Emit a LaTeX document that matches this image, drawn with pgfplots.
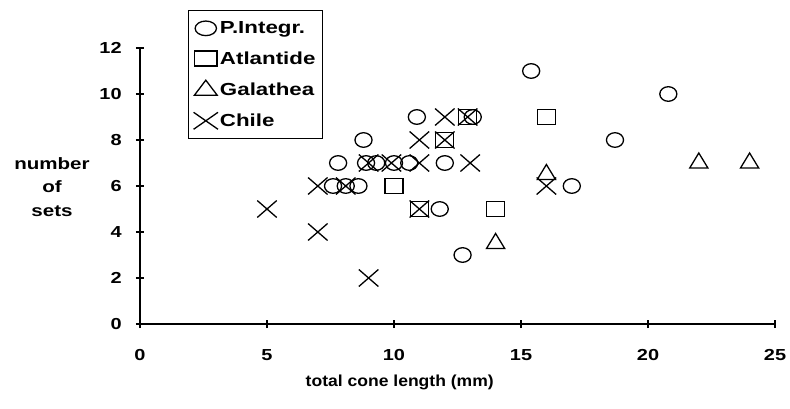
\documentclass[border=0pt]{standalone}
\usepackage{fontspec}
\setmainfont{Liberation Sans}
\usepackage{graphicx}
\usepackage{pgfplots}
\pgfplotsset{compat=1.18}
\newcommand\hs[1]{\scalebox{1.25}[1]{#1}}
\newcommand\legtxt[1]{\scalebox{1.28}[1]{\bfseries\fontsize{17.5}{19}\selectfont #1}}
\begin{document}
\begin{tikzpicture}[x=1bp,y=1bp]
\begin{axis}[
  at={(0,0)}, anchor=south west,
  scale only axis, width=635bp, height=276bp,
  xmin=0, xmax=25, ymin=0, ymax=12,
  axis x line=bottom, axis y line=left,
  axis line style={-, line width=1.2bp},
  xtick={0,5,...,25}, ytick={0,2,...,12},
  tick align=center, major tick length=8bp,
  tick style={line width=1.2bp, black},
  ticklabel style={font=\bfseries\fontsize{16}{19}\selectfont, xscale=1.25},
  /pgf/number format/assume math mode=true,
  xticklabel style={yshift=-18bp},
  yticklabel style={xshift=-8bp},
  xlabel={total cone length (mm)},
  xlabel style={at={(axis description cs:0.409,-0.21)}, anchor=center, font=\bfseries\fontsize{16}{19}\selectfont, xscale=1.1},
  ylabel={\hs{number}\\\hs{of}\\\hs{sets}},
  ylabel style={at={(axis description cs:-0.1386,0.496)}, anchor=center, rotate=-90, align=center, font=\bfseries\fontsize{16.5}{24}\selectfont},
  clip=false,
  legend cell align=left,
  legend image code/.code={\draw[#1, every mark/.append style={xscale=1.25}] plot coordinates {(0bp,0bp)};},
  legend style={at={(rel axis cs:0.0756,1.1377)}, anchor=north west, draw=black, line width=1.2bp,
    font=\bfseries\fontsize{16}{19}\selectfont, row sep=12.5bp, column sep=0bp, inner xsep=5bp, inner ysep=9bp},
]
\addplot[only marks, mark=o, mark size=7.3bp, mark options={xscale=1.17, line width=1.3bp, black}] coordinates {
(7.8,7) (8.9,7) (9.3,7) (10.0,7) (10.6,7) (12.0,7)
(7.6,6) (8.1,6) (8.6,6)
(8.8,8) (10.9,9) (13.1,9) (11.8,5) (12.7,3)
(15.4,11) (20.8,10) (18.7,8) (17,6)
};
\addlegendentry{\legtxt{P.Integr.}}
\addplot[only marks, mark=square, mark size=7.5bp, mark options={xscale=1.2, line width=1.3bp, black}] coordinates {
(10,6) (11,5) (12,8) (14,5) (16,9) (12.9,9)
};
\addlegendentry{\legtxt{Atlantide}}
\addplot[only marks, mark=triangle, mark size=10bp, mark options={xscale=1.05, line width=1.3bp, black}] coordinates {
(14,3.5) (16,6.5) (22,7) (24,7)
};
\addlegendentry{\legtxt{Galathea}}
\addplot[only marks, mark=x, mark size=12bp, mark options={xscale=1.15, line width=1.3bp, black}] coordinates {
(5,5) (7,4) (9,2) (7,6) (8.1,6) (9.0,7) (9.9,7) (11,7) (13,7)
(11,8) (12,8) (12,9) (12.9,9) (11,5) (16,6)
};
\addlegendentry{\legtxt{Chile}}
\end{axis}
\pgfresetboundingbox
\path (-140,-84) rectangle (650,324);
\end{tikzpicture}
\end{document}
